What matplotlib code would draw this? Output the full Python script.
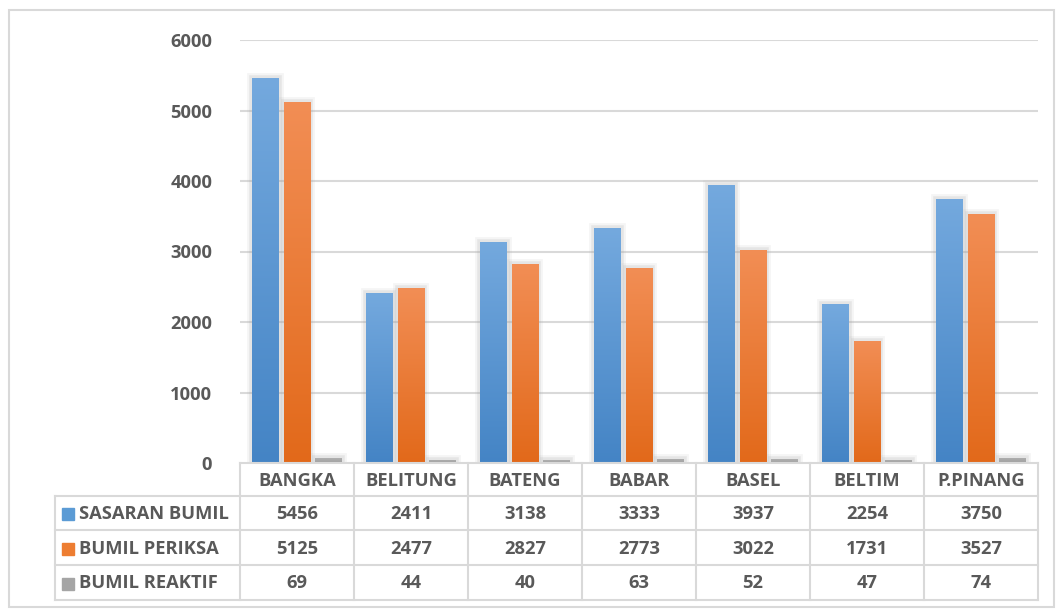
import numpy as np
import matplotlib
matplotlib.use("Agg")
import matplotlib.pyplot as plt
from matplotlib.colors import LinearSegmentedColormap
from matplotlib.patches import Rectangle
from matplotlib.lines import Line2D
import matplotlib.patheffects as pe
import matplotlib.transforms as mtransforms

plt.rcParams['font.family'] = ['Open Sans', 'DejaVu Sans']

categories = ["BANGKA", "BELITUNG", "BATENG", "BABAR", "BASEL", "BELTIM", "P.PINANG"]
series_names = ["SASARAN BUMIL", "BUMIL PERIKSA", "BUMIL REAKTIF"]
sasaran_bumil = [5456, 2411, 3138, 3333, 3937, 2254, 3750]
bumil_periksa = [5125, 2477, 2827, 2773, 3022, 1731, 3527]
bumil_reaktif = [69, 44, 40, 63, 52, 47, 74]
y_ticks = [0, 1000, 2000, 3000, 4000, 5000, 6000]

series_values = [sasaran_bumil, bumil_periksa, bumil_reaktif]
# (top colour, bottom colour) of each series' vertical gradient
grad_colors = [("#74a9de", "#4484c5"), ("#f28e55", "#e2691a"), ("#b0b0b0", "#a0a0a0")]
swatch_colors = ["#5b9bd5", "#ed7d31", "#a5a5a5"]
text_color = "#595959"
grid_color = "#d9d9d9"
font_size = 13.2

W, H = 1056, 609
fig = plt.figure(figsize=(W / 100, H / 100), dpi=100)

def fx(px):
    return px / W

def fy(py):
    return 1 - py / H

# chart frame
fig.patches.append(Rectangle((fx(9), fy(607)), fx(1054) - fx(9), fy(10) - fy(607),
                             transform=fig.transFigure, fill=False,
                             edgecolor=grid_color, linewidth=1.5))

ax_left, ax_right, ax_top, ax_bottom = 240, 1038, 40, 463
ax = fig.add_axes([fx(ax_left), fy(ax_bottom), fx(ax_right) - fx(ax_left), fy(ax_top) - fy(ax_bottom)])
ax.set_xlim(-0.5, len(categories) - 0.5)
ax.set_ylim(0, 6000)
for s in ax.spines.values():
    s.set_visible(False)
ax.set_xticks([])
ax.set_yticks(y_ticks)
ax.tick_params(axis='y', length=0, pad=20)
for lab in ax.get_yticklabels():
    lab.set_fontsize(font_size)
    lab.set_fontweight('bold')
    lab.set_color(text_color)
for t in y_ticks[1:]:
    ax.axhline(t, color=grid_color, linewidth=1.5, zorder=0)

# soft glow around each bar
glow = [pe.Stroke(linewidth=7, foreground="#b0b0b0", alpha=0.12),
        pe.Stroke(linewidth=4, foreground="#a0a0a0", alpha=0.18),
        pe.Normal()]

x = np.arange(len(categories))
bar_w = 0.235
offsets = [-0.276, 0.0, 0.276]
grad = np.linspace(0, 1, 256).reshape(-1, 1)
for vals, off, (c_top, c_bot) in zip(series_values, offsets, grad_colors):
    cmap = LinearSegmentedColormap.from_list("g", [c_bot, c_top])
    bars = ax.bar(x + off, vals, width=bar_w, color=c_bot, linewidth=0, zorder=2,
                  path_effects=glow)
    for b in bars:
        x0, y0, bw, bh = b.get_x(), b.get_y(), b.get_width(), b.get_height()
        im = ax.imshow(grad, cmap=cmap, origin="lower", aspect="auto",
                       extent=(x0, x0 + bw, y0, y0 + bh), zorder=3)
        im.set_clip_path(b)
ax.set_xlim(-0.5, len(categories) - 0.5)
ax.set_ylim(0, 6000)

# data table under the axes
blend = mtransforms.blended_transform_factory(ax.transData, fig.transFigure)
row_px = [463, 496, 530, 565, 600]
label_left = 55
col_edges = np.arange(len(categories) + 1) - 0.5
lw = 1.5

def hline(py, x_from_px, x_to_px):
    fig.lines.append(Line2D([fx(x_from_px), fx(x_to_px)], [fy(py), fy(py)],
                            transform=fig.transFigure, color=grid_color, linewidth=lw))

hline(row_px[0], ax_left, ax_right)
for py in row_px[1:]:
    hline(py, label_left, ax_right)
for ce in col_edges:
    ax.add_line(Line2D([ce, ce], [fy(row_px[0]), fy(row_px[-1])], transform=blend,
                       color=grid_color, linewidth=lw, clip_on=False))
fig.lines.append(Line2D([fx(label_left)] * 2, [fy(row_px[1]), fy(row_px[-1])],
                        transform=fig.transFigure, color=grid_color, linewidth=lw))

txt_kw = dict(fontsize=font_size, fontweight='bold', color=text_color, va='center', ha='center')
hdr_y = fy((row_px[0] + row_px[1]) / 2 + 1)
for i, cat in enumerate(categories):
    ax.text(i, hdr_y, cat, transform=blend, **txt_kw)

for r, (name, vals) in enumerate(zip(series_names, series_values)):
    cy = (row_px[r + 1] + row_px[r + 2]) / 2 + 1
    fig.patches.append(Rectangle((fx(62), fy(cy + 6)), fx(12), fy(0) - fy(12),
                                 transform=fig.transFigure, color=swatch_colors[r]))
    fig.text(fx(79), fy(cy), name, ha='left', va='center', fontsize=font_size,
             fontweight='bold', color=text_color)
    for i, v in enumerate(vals):
        ax.text(i, fy(cy), f"{v}", transform=blend, **txt_kw)

fig.savefig("out.png", dpi=100)
